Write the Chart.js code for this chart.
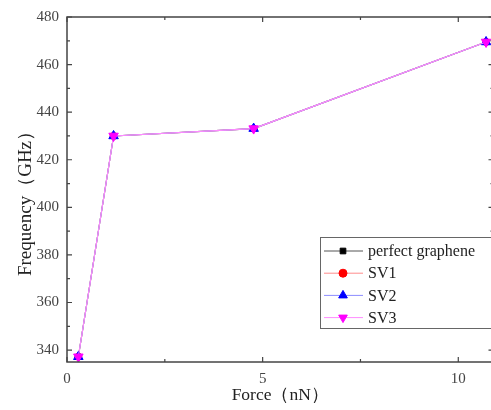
<!DOCTYPE html>
<html>
<head>
<meta charset="utf-8">
<script src="https://cdn.jsdelivr.net/npm/chart.js@4.4.1/dist/chart.umd.min.js"></script>
<style>
  html, body { margin:0; padding:0; background:#fff; overflow:hidden; }
  #wrap { width:500px; height:410px; }
</style>
</head>
<body>
<div id="wrap"><canvas id="c" width="500" height="410"></canvas></div>
<script>
// data
const force     = [0.29, 1.19, 4.77, 10.71];
const perfect   = [337.2, 430.0, 433.1, 469.5];
const sv1       = [337.2, 430.0, 433.1, 469.5];
const sv2       = [337.2, 430.0, 433.1, 469.5];
const sv3       = [337.2, 430.0, 433.1, 469.5];
const seriesNames = ['perfect graphene', 'SV1', 'SV2', 'SV3'];
const xTicks = [0, 5, 10];
const xMinor = [2.5, 7.5];
const yTicks = [340, 360, 380, 400, 420, 440, 460, 480];
const yMinor = [350, 370, 390, 410, 430, 450, 470];

const serif = '"Liberation Serif", "Times New Roman", serif';

function ds(label, vals, color, lineColor, style, rot, order, r) {
  return {
    label,
    order,
    data: force.map((x, i) => ({ x, y: vals[i] })),
    showLine: true,
    borderColor: lineColor,
    borderWidth: 1.1,
    backgroundColor: color,
    pointBorderColor: color,
    pointBackgroundColor: color,
    pointStyle: style,
    pointRotation: rot || 0,
    pointRadius: r,
    pointBorderWidth: 1
  };
}

// frame, inward ticks and legend
const framePlugin = {
  id: 'frame',
  afterDraw(chart) {
    const { ctx, chartArea: a, scales: { x, y } } = chart;
    ctx.save();
    ctx.strokeStyle = '#444';
    ctx.lineWidth = 1.5;
    ctx.strokeRect(a.left, a.top, a.right - a.left, a.bottom - a.top);
    ctx.lineWidth = 1.2;
    ctx.beginPath();
    const tick = (px, major, horiz) => {
      const len = major ? 5 : 3;
      if (horiz) {
        ctx.moveTo(px, a.bottom); ctx.lineTo(px, a.bottom - len);
        ctx.moveTo(px, a.top); ctx.lineTo(px, a.top + len);
      } else {
        ctx.moveTo(a.left, px); ctx.lineTo(a.left + len, px);
        ctx.moveTo(a.right, px); ctx.lineTo(a.right - len, px);
      }
    };
    xTicks.forEach(v => tick(x.getPixelForValue(v), true, true));
    xMinor.forEach(v => tick(x.getPixelForValue(v), false, true));
    yTicks.forEach(v => tick(y.getPixelForValue(v), true, false));
    yMinor.forEach(v => tick(y.getPixelForValue(v), false, false));
    ctx.stroke();

    // legend
    const lx = 320, ly = 237, lw = 172, lh = 91;
    ctx.fillStyle = '#fff';
    ctx.fillRect(lx, ly, lw, lh);
    ctx.strokeStyle = '#666';
    ctx.lineWidth = 1;
    ctx.strokeRect(lx + 0.5, ly + 0.5, lw, lh);
    ctx.font = '16px ' + serif;
    ctx.textBaseline = 'middle';
    chart.data.datasets.forEach((d, i) => {
      const cy = ly + 14 + i * 22.2;
      ctx.strokeStyle = d.borderColor;
      ctx.lineWidth = 1;
      ctx.beginPath();
      ctx.moveTo(lx + 4, cy); ctx.lineTo(lx + 43, cy);
      ctx.stroke();
      ctx.fillStyle = d.pointBackgroundColor;
      ctx.strokeStyle = d.pointBorderColor;
      Chart.helpers.drawPoint(ctx, {
        pointStyle: d.pointStyle, rotation: d.pointRotation,
        radius: d.pointStyle === 'triangle' ? 5 : 4, borderWidth: 1
      }, lx + 23, cy);
      ctx.fillStyle = '#222';
      ctx.fillText(seriesNames[i], lx + 48, cy + 1);
    });
    ctx.restore();
  }
};

new Chart(document.getElementById('c'), {
  type: 'scatter',
  data: {
    datasets: [
      ds(seriesNames[0], perfect, '#000000', '#555555', 'rect', 0, 3, 3.5),
      ds(seriesNames[1], sv1, '#ff0000', '#ff8c8c', 'circle', 0, 2, 3.5),
      ds(seriesNames[2], sv2, '#0000ff', '#8c8cff', 'triangle', 0, 1, 5.5),
      ds(seriesNames[3], sv3, '#ff00ff', '#ff8cff', 'triangle', 180, 0, 5.5)
    ]
  },
  options: {
    responsive: false,
    animation: false,
    layout: { padding: { top: 17, right: 6, left: 0, bottom: 0 } },
    plugins: { legend: { display: false }, tooltip: { enabled: false } },
    scales: {
      x: {
        type: 'linear', min: 0, max: 10.9,
        afterBuildTicks: s => { s.ticks = xTicks.map(v => ({ value: v })); },
        afterFit: s => { s.height = 48; },
        grid: { display: false },
        border: { display: false },
        ticks: { color: '#444', padding: 0, font: { family: serif, size: 15 } },
        title: { display: true, text: 'Force（nN）', color: '#222', padding: { top: 22 },
                 font: { family: serif, size: 17.5 } }
      },
      y: {
        type: 'linear', min: 335, max: 480,
        afterBuildTicks: s => { s.ticks = yTicks.map(v => ({ value: v })); },
        afterFit: s => { s.width = 67; },
        grid: { display: false },
        border: { display: false },
        ticks: { color: '#444', padding: 0, font: { family: serif, size: 15 } },
        title: { display: true, text: 'Frequency（GHz）　', color: '#222', padding: { top: 15 },
                 font: { family: serif, size: 19 } }
      }
    }
  },
  plugins: [framePlugin]
});
</script>
</body>
</html>
